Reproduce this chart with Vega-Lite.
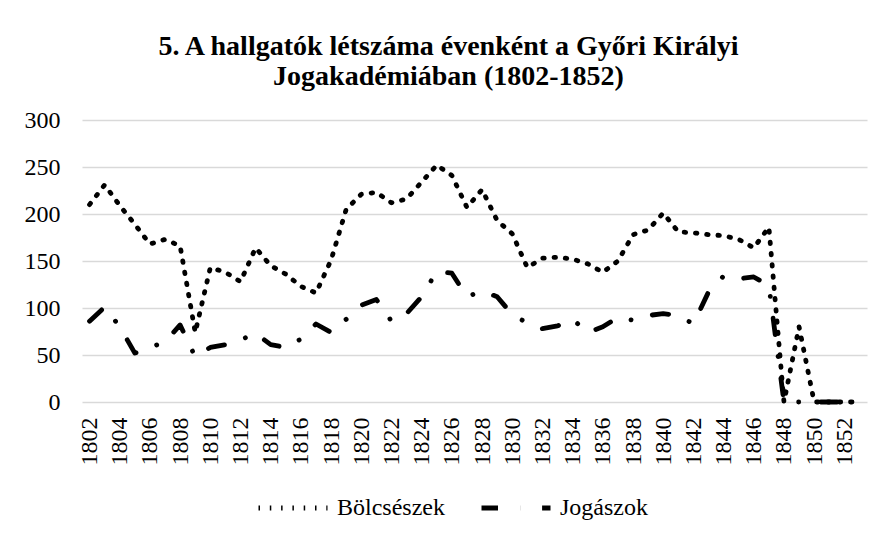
{
  "$schema": "https://vega.github.io/schema/vega-lite/v6.json",
  "width": 785,
  "height": 282,
  "autosize": {"type": "none"},
  "padding": {"left": 82, "top": 120, "right": 29, "bottom": 147},
  "background": "white",
  "title": {
    "text": ["5. A hallgatók létszáma évenként a Győri Királyi", "Jogakadémiában (1802-1852)"],
    "font": "Liberation Serif",
    "fontSize": 28,
    "fontWeight": "bold",
    "color": "black",
    "lineHeight": 30,
    "anchor": "middle",
    "dx": -26,
    "offset": 17
  },
  "data": {
    "values": [
      {"year": 1802, "series": "Bölcsészek", "value": 210},
      {"year": 1803, "series": "Bölcsészek", "value": 231},
      {"year": 1804, "series": "Bölcsészek", "value": 209},
      {"year": 1805, "series": "Bölcsészek", "value": 189},
      {"year": 1806, "series": "Bölcsészek", "value": 168},
      {"year": 1807, "series": "Bölcsészek", "value": 173},
      {"year": 1808, "series": "Bölcsészek", "value": 166},
      {"year": 1809, "series": "Bölcsészek", "value": 74},
      {"year": 1810, "series": "Bölcsészek", "value": 143},
      {"year": 1811, "series": "Bölcsészek", "value": 138},
      {"year": 1812, "series": "Bölcsészek", "value": 128},
      {"year": 1813, "series": "Bölcsészek", "value": 164},
      {"year": 1814, "series": "Bölcsészek", "value": 145},
      {"year": 1815, "series": "Bölcsészek", "value": 136},
      {"year": 1816, "series": "Bölcsészek", "value": 123},
      {"year": 1817, "series": "Bölcsészek", "value": 116},
      {"year": 1818, "series": "Bölcsészek", "value": 151},
      {"year": 1819, "series": "Bölcsészek", "value": 205},
      {"year": 1820, "series": "Bölcsészek", "value": 221},
      {"year": 1821, "series": "Bölcsészek", "value": 223},
      {"year": 1822, "series": "Bölcsészek", "value": 212},
      {"year": 1823, "series": "Bölcsészek", "value": 216},
      {"year": 1824, "series": "Bölcsészek", "value": 234},
      {"year": 1825, "series": "Bölcsészek", "value": 252},
      {"year": 1826, "series": "Bölcsészek", "value": 241},
      {"year": 1827, "series": "Bölcsészek", "value": 207},
      {"year": 1828, "series": "Bölcsészek", "value": 226},
      {"year": 1829, "series": "Bölcsészek", "value": 193},
      {"year": 1830, "series": "Bölcsészek", "value": 179},
      {"year": 1831, "series": "Bölcsészek", "value": 143},
      {"year": 1832, "series": "Bölcsészek", "value": 153},
      {"year": 1833, "series": "Bölcsészek", "value": 154},
      {"year": 1834, "series": "Bölcsészek", "value": 152},
      {"year": 1835, "series": "Bölcsészek", "value": 147},
      {"year": 1836, "series": "Bölcsészek", "value": 138},
      {"year": 1837, "series": "Bölcsészek", "value": 150},
      {"year": 1838, "series": "Bölcsészek", "value": 178},
      {"year": 1839, "series": "Bölcsészek", "value": 183},
      {"year": 1840, "series": "Bölcsészek", "value": 201},
      {"year": 1841, "series": "Bölcsészek", "value": 181},
      {"year": 1842, "series": "Bölcsészek", "value": 180},
      {"year": 1843, "series": "Bölcsészek", "value": 178},
      {"year": 1844, "series": "Bölcsészek", "value": 177},
      {"year": 1845, "series": "Bölcsészek", "value": 173},
      {"year": 1846, "series": "Bölcsészek", "value": 164},
      {"year": 1847, "series": "Bölcsészek", "value": 186},
      {"year": 1848, "series": "Bölcsészek", "value": 0},
      {"year": 1849, "series": "Bölcsészek", "value": 80},
      {"year": 1850, "series": "Bölcsészek", "value": 0},
      {"year": 1851, "series": "Bölcsészek", "value": 0},
      {"year": 1852, "series": "Bölcsészek", "value": 0},
      {"year": 1853, "series": "Bölcsészek", "value": 0},
      {"year": 1802, "series": "Jogászok", "value": 86},
      {"year": 1803, "series": "Jogászok", "value": 101},
      {"year": 1804, "series": "Jogászok", "value": 80},
      {"year": 1805, "series": "Jogászok", "value": 52},
      {"year": 1806, "series": "Jogászok", "value": 58},
      {"year": 1807, "series": "Jogászok", "value": 64},
      {"year": 1808, "series": "Jogászok", "value": 82},
      {"year": 1809, "series": "Jogászok", "value": 48},
      {"year": 1810, "series": "Jogászok", "value": 58},
      {"year": 1811, "series": "Jogászok", "value": 61},
      {"year": 1812, "series": "Jogászok", "value": 66},
      {"year": 1813, "series": "Jogászok", "value": 73},
      {"year": 1814, "series": "Jogászok", "value": 61},
      {"year": 1815, "series": "Jogászok", "value": 58},
      {"year": 1816, "series": "Jogászok", "value": 67},
      {"year": 1817, "series": "Jogászok", "value": 83},
      {"year": 1818, "series": "Jogászok", "value": 74},
      {"year": 1819, "series": "Jogászok", "value": 88},
      {"year": 1820, "series": "Jogászok", "value": 103},
      {"year": 1821, "series": "Jogászok", "value": 109},
      {"year": 1822, "series": "Jogászok", "value": 86},
      {"year": 1823, "series": "Jogászok", "value": 94},
      {"year": 1824, "series": "Jogászok", "value": 112},
      {"year": 1825, "series": "Jogászok", "value": 139},
      {"year": 1826, "series": "Jogászok", "value": 137},
      {"year": 1827, "series": "Jogászok", "value": 112},
      {"year": 1828, "series": "Jogászok", "value": 118},
      {"year": 1829, "series": "Jogászok", "value": 112},
      {"year": 1830, "series": "Jogászok", "value": 93},
      {"year": 1831, "series": "Jogászok", "value": 84},
      {"year": 1832, "series": "Jogászok", "value": 78},
      {"year": 1833, "series": "Jogászok", "value": 81},
      {"year": 1834, "series": "Jogászok", "value": 88},
      {"year": 1835, "series": "Jogászok", "value": 74},
      {"year": 1836, "series": "Jogászok", "value": 80},
      {"year": 1837, "series": "Jogászok", "value": 90},
      {"year": 1838, "series": "Jogászok", "value": 87},
      {"year": 1839, "series": "Jogászok", "value": 92},
      {"year": 1840, "series": "Jogászok", "value": 94},
      {"year": 1841, "series": "Jogászok", "value": 92},
      {"year": 1842, "series": "Jogászok", "value": 83},
      {"year": 1843, "series": "Jogászok", "value": 117},
      {"year": 1844, "series": "Jogászok", "value": 134},
      {"year": 1845, "series": "Jogászok", "value": 131},
      {"year": 1846, "series": "Jogászok", "value": 133},
      {"year": 1847, "series": "Jogászok", "value": 124},
      {"year": 1848, "series": "Jogászok", "value": 0},
      {"year": 1849, "series": "Jogászok", "value": 0},
      {"year": 1850, "series": "Jogászok", "value": 0},
      {"year": 1851, "series": "Jogászok", "value": 0},
      {"year": 1852, "series": "Jogászok", "value": 0}
    ]
  },
  "mark": {"type": "line", "color": "black", "strokeCap": "round", "strokeJoin": "round"},
  "encoding": {
    "x": {
      "field": "year",
      "type": "quantitative",
      "scale": {"domain": [1801.5, 1853.5], "nice": false, "zero": false},
      "axis": {
        "title": null,
        "values": [1802,1804,1806,1808,1810,1812,1814,1816,1818,1820,1822,1824,1826,1828,1830,1832,1834,1836,1838,1840,1842,1844,1846,1848,1850,1852],
        "format": "d",
        "labelAngle": -90,
        "labelPadding": 15,
        "labelOverlap": false,
        "labelFlush": false,
        "labelFont": "Liberation Serif",
        "labelFontSize": 24,
        "labelColor": "black",
        "domain": false,
        "ticks": false,
        "grid": false
      }
    },
    "y": {
      "field": "value",
      "type": "quantitative",
      "scale": {"domain": [0, 300], "nice": false},
      "axis": {
        "title": null,
        "values": [0, 50, 100, 150, 200, 250, 300],
        "labelPadding": 22,
        "labelFont": "Liberation Serif",
        "labelFontSize": 24,
        "labelColor": "black",
        "domain": false,
        "ticks": false,
        "grid": true,
        "gridColor": "#d9d9d9",
        "gridWidth": 1.5
      }
    },
    "strokeDash": {
      "field": "series",
      "type": "nominal",
      "scale": {"domain": ["Bölcsészek", "Jogászok"], "range": [[1.5, 9.8], [16.5, 22, 0.1, 22]]},
      "legend": {
        "title": null,
        "orient": "none",
        "direction": "horizontal",
        "legendX": 174,
        "legendY": 351,
        "symbolType": "stroke",
        "symbolSize": 4761,
        "symbolStrokeColor": "black",
        "symbolStrokeWidth": 4.5,
        "symbolOpacity": 1,
        "labelFont": "Liberation Serif",
        "labelFontSize": 24,
        "labelColor": "black",
        "labelOffset": 7,
        "columnPadding": 26
      }
    }
  },
  "config": {
    "view": {"stroke": null},
    "line": {"strokeWidth": 4.8}
  }
}
